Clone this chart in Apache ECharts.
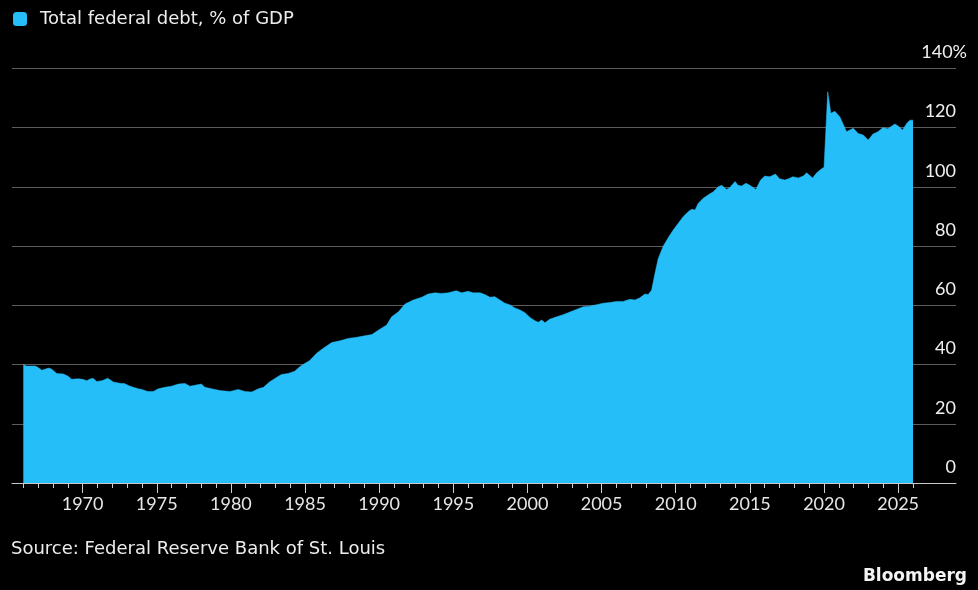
<!DOCTYPE html>
<html>
<head>
<meta charset="utf-8">
<title>Total federal debt</title>
<script src="https://cdn.jsdelivr.net/npm/echarts@6/dist/echarts.min.js"></script>
<style>
  html, body { margin: 0; padding: 0; background: #000; }
  #main { width: 978px; height: 590px; }
</style>
</head>
<body>
<div id="main"></div>
<script>
// 读图得到的季度数据（年份小数, % of GDP）
var years = [
  1966.0, 1966.2, 1966.8, 1967.0, 1967.25, 1967.7, 1967.9, 1968.25, 1968.7, 1969.0,
  1969.26, 1969.7, 1970.0, 1970.3, 1970.45, 1970.7, 1970.95, 1971.3, 1971.7, 1972.07,
  1972.6, 1972.8, 1973.2, 1973.75, 1974.0, 1974.4, 1974.77, 1975.1, 1975.55, 1976.0,
  1976.45, 1976.9, 1977.24, 1977.58, 1978.0, 1978.25, 1978.7, 1979.26, 1979.94, 1980.5,
  1980.95, 1981.4, 1981.85, 1982.2, 1982.6, 1983.1, 1983.4, 1983.87, 1984.3, 1984.66,
  1985.0, 1985.3, 1985.78, 1986.23, 1986.8, 1987.36, 1987.9, 1988.5, 1988.93, 1989.5,
  1989.94, 1990.5, 1990.84, 1991.3, 1991.74, 1992.3, 1992.87, 1993.3, 1993.76, 1994.2,
  1994.66, 1995.2, 1995.56, 1996.0, 1996.34, 1996.8, 1997.13, 1997.47, 1997.8, 1998.14,
  1998.48, 1998.8, 1999.15, 1999.5, 1999.83, 2000.17, 2000.5, 2000.73, 2000.96, 2001.18,
  2001.5, 2001.97, 2002.4, 2002.86, 2003.3, 2003.76, 2004.2, 2004.66, 2005.1, 2005.56,
  2006.0, 2006.45, 2006.9, 2007.25, 2007.58, 2007.92, 2008.14, 2008.37, 2008.6, 2008.82,
  2009.16, 2009.5, 2009.83, 2010.17, 2010.5, 2010.84, 2011.07, 2011.3, 2011.52, 2011.85,
  2012.2, 2012.53, 2012.87, 2013.1, 2013.43, 2013.65, 2014.0, 2014.2, 2014.44, 2014.73,
  2015.0, 2015.4, 2015.72, 2016.0, 2016.35, 2016.72, 2017.0, 2017.35, 2017.6, 2017.9,
  2018.26, 2018.6, 2018.83, 2019.23, 2019.5, 2019.84, 2020.0, 2020.25, 2020.46, 2020.73,
  2021.07, 2021.52, 2021.97, 2022.3, 2022.64, 2022.98, 2023.3, 2023.64, 2023.98, 2024.3,
  2024.78, 2025.0, 2025.3, 2025.57, 2025.79, 2026.0
];
var debt = [
  40.0, 39.5, 39.5, 39.0, 38.1, 38.8, 38.5, 37.0, 36.8, 36.1,
  35.0, 35.2, 35.0, 34.5, 35.0, 35.4, 34.3, 34.5, 35.4, 34.1,
  33.6, 33.6, 32.7, 31.8, 31.6, 30.9, 30.9, 31.8, 32.3, 32.7,
  33.4, 33.6, 32.7, 33.0, 33.4, 32.3, 31.8, 31.2, 30.9, 31.6,
  30.9, 30.7, 31.8, 32.3, 34.1, 35.7, 36.6, 37.0, 37.7, 39.3,
  40.4, 41.3, 43.8, 45.5, 47.4, 48.0, 48.8, 49.2, 49.6, 50.1,
  51.6, 53.3, 56.1, 57.8, 60.4, 61.8, 62.7, 63.8, 64.2, 64.0,
  64.2, 64.9, 64.2, 64.7, 64.2, 64.2, 63.6, 62.7, 62.9, 61.8,
  60.7, 60.2, 59.1, 58.4, 57.5, 55.9, 54.8, 54.3, 55.0, 54.1,
  55.3, 56.1, 56.8, 57.7, 58.6, 59.5, 59.7, 60.2, 60.7, 60.9,
  61.3, 61.3, 62.0, 61.8, 62.5, 63.8, 63.6, 65.1, 70.8, 75.8,
  80.0, 82.9, 85.4, 87.7, 89.9, 91.6, 92.4, 92.2, 94.4, 96.1,
  97.3, 98.3, 100.0, 100.5, 99.1, 99.8, 101.8, 100.5, 100.3, 101.2,
  100.5, 99.1, 102.3, 103.6, 103.4, 104.3, 102.7, 102.3, 102.7, 103.4,
  103.0, 103.6, 104.7, 103.0, 104.7, 106.1, 106.6, 132.1, 124.8, 125.5,
  123.6, 118.6, 119.8, 118.0, 117.5, 115.8, 117.8, 118.6, 120.0, 119.6,
  121.2, 120.5, 119.2, 121.4, 122.5, 122.5
];
var labelYears = [1970, 1975, 1980, 1985, 1990, 1995, 2000, 2005, 2010, 2015, 2020, 2025];

var seriesName = 'Total federal debt, % of GDP';
var blue = '#26bef8';

var points = [];
for (var i = 0; i < years.length; i++) {
  points.push([years[i], debt[i]]);
}

var option = {
  backgroundColor: '#000',
  animation: false,
  legend: {
    data: [seriesName],
    left: 13,
    top: 10,
    padding: 0,
    icon: 'roundRect',
    itemWidth: 14,
    itemHeight: 14,
    textStyle: {
      color: '#ececec',
      fontFamily: 'DejaVu Sans',
      fontSize: 18,
      padding: [0, 0, 0, 8]
    }
  },
  title: [
    {
      text: 'Source: Federal Reserve Bank of St. Louis',
      left: 6,
      top: 535,
      textStyle: { color: '#ececec', fontFamily: 'DejaVu Sans', fontSize: 18, fontWeight: 'normal' }
    },
    {
      text: 'Bloomberg',
      right: 6,
      top: 563,
      textStyle: { color: '#f4f4f4', fontFamily: 'DejaVu Sans', fontSize: 17, fontWeight: 'bold' }
    }
  ],
  grid: [
    // 网格线和坐标轴线
    { left: 12, right: 22, top: 68.3, bottom: 107 },
    // 数据区域 1966-2026
    { left: 23.3, right: 65, top: 68.3, bottom: 107 }
  ],
  xAxis: [
    {
      gridIndex: 0, type: 'value', min: 0, max: 1,
      axisLine: { show: true, lineStyle: { color: '#c8c8c8', width: 1 } },
      axisTick: { show: false },
      axisLabel: { show: false },
      splitLine: { show: false }
    },
    {
      gridIndex: 1, type: 'value', min: 1966, max: 2026, interval: 1,
      position: 'bottom',
      axisLine: { show: false },
      axisTick: { show: true, length: 5, lineStyle: { color: '#d0d0d0', width: 1 } },
      axisLabel: {
        customValues: labelYears,
        color: '#e6e6e6',
        fontFamily: 'Lato',
        fontSize: 18,
        margin: 12,
        formatter: function (v) { return String(v); }
      },
      splitLine: { show: false }
    },
    {
      gridIndex: 1, type: 'value', min: 1966, max: 2026,
      position: 'bottom', offset: 0,
      axisLine: { show: false },
      axisTick: { show: true, customValues: labelYears, length: 10, lineStyle: { color: '#d0d0d0', width: 1 } },
      axisLabel: { show: false },
      splitLine: { show: false }
    }
  ],
  yAxis: [
    {
      gridIndex: 0, type: 'value', position: 'right',
      min: 0, max: 140, interval: 20,
      axisLine: { show: false },
      axisTick: { show: false },
      axisLabel: {
        inside: true,
        margin: -11,
        color: '#f0f0f0',
        fontFamily: 'Lato',
        fontSize: 18,
        lineHeight: 18,
        verticalAlign: 'bottom',
        padding: [0, 0, 7, 0],
        // 数字右对齐到网格线末端，% 伸出去
        formatter: function (v) {
          if (v === 140) return '140%';
          return v + '{s| }';
        },
        rich: {
          s: { width: 11, fontSize: 18, lineHeight: 18 }
        }
      },
      splitLine: { show: true, lineStyle: { color: '#5c5c5c', width: 1 } }
    },
    { gridIndex: 1, type: 'value', min: 0, max: 140, show: false }
  ],
  series: [
    {
      name: seriesName,
      type: 'line',
      xAxisIndex: 1,
      yAxisIndex: 1,
      data: points,
      showSymbol: false,
      symbol: 'none',
      smooth: false,
      itemStyle: { color: blue },
      lineStyle: { width: 0.5, color: blue },
      areaStyle: { color: blue, opacity: 1 }
    }
  ]
};

var myChart = echarts.init(document.getElementById('main'));
myChart.setOption(option);
</script>
</body>
</html>
